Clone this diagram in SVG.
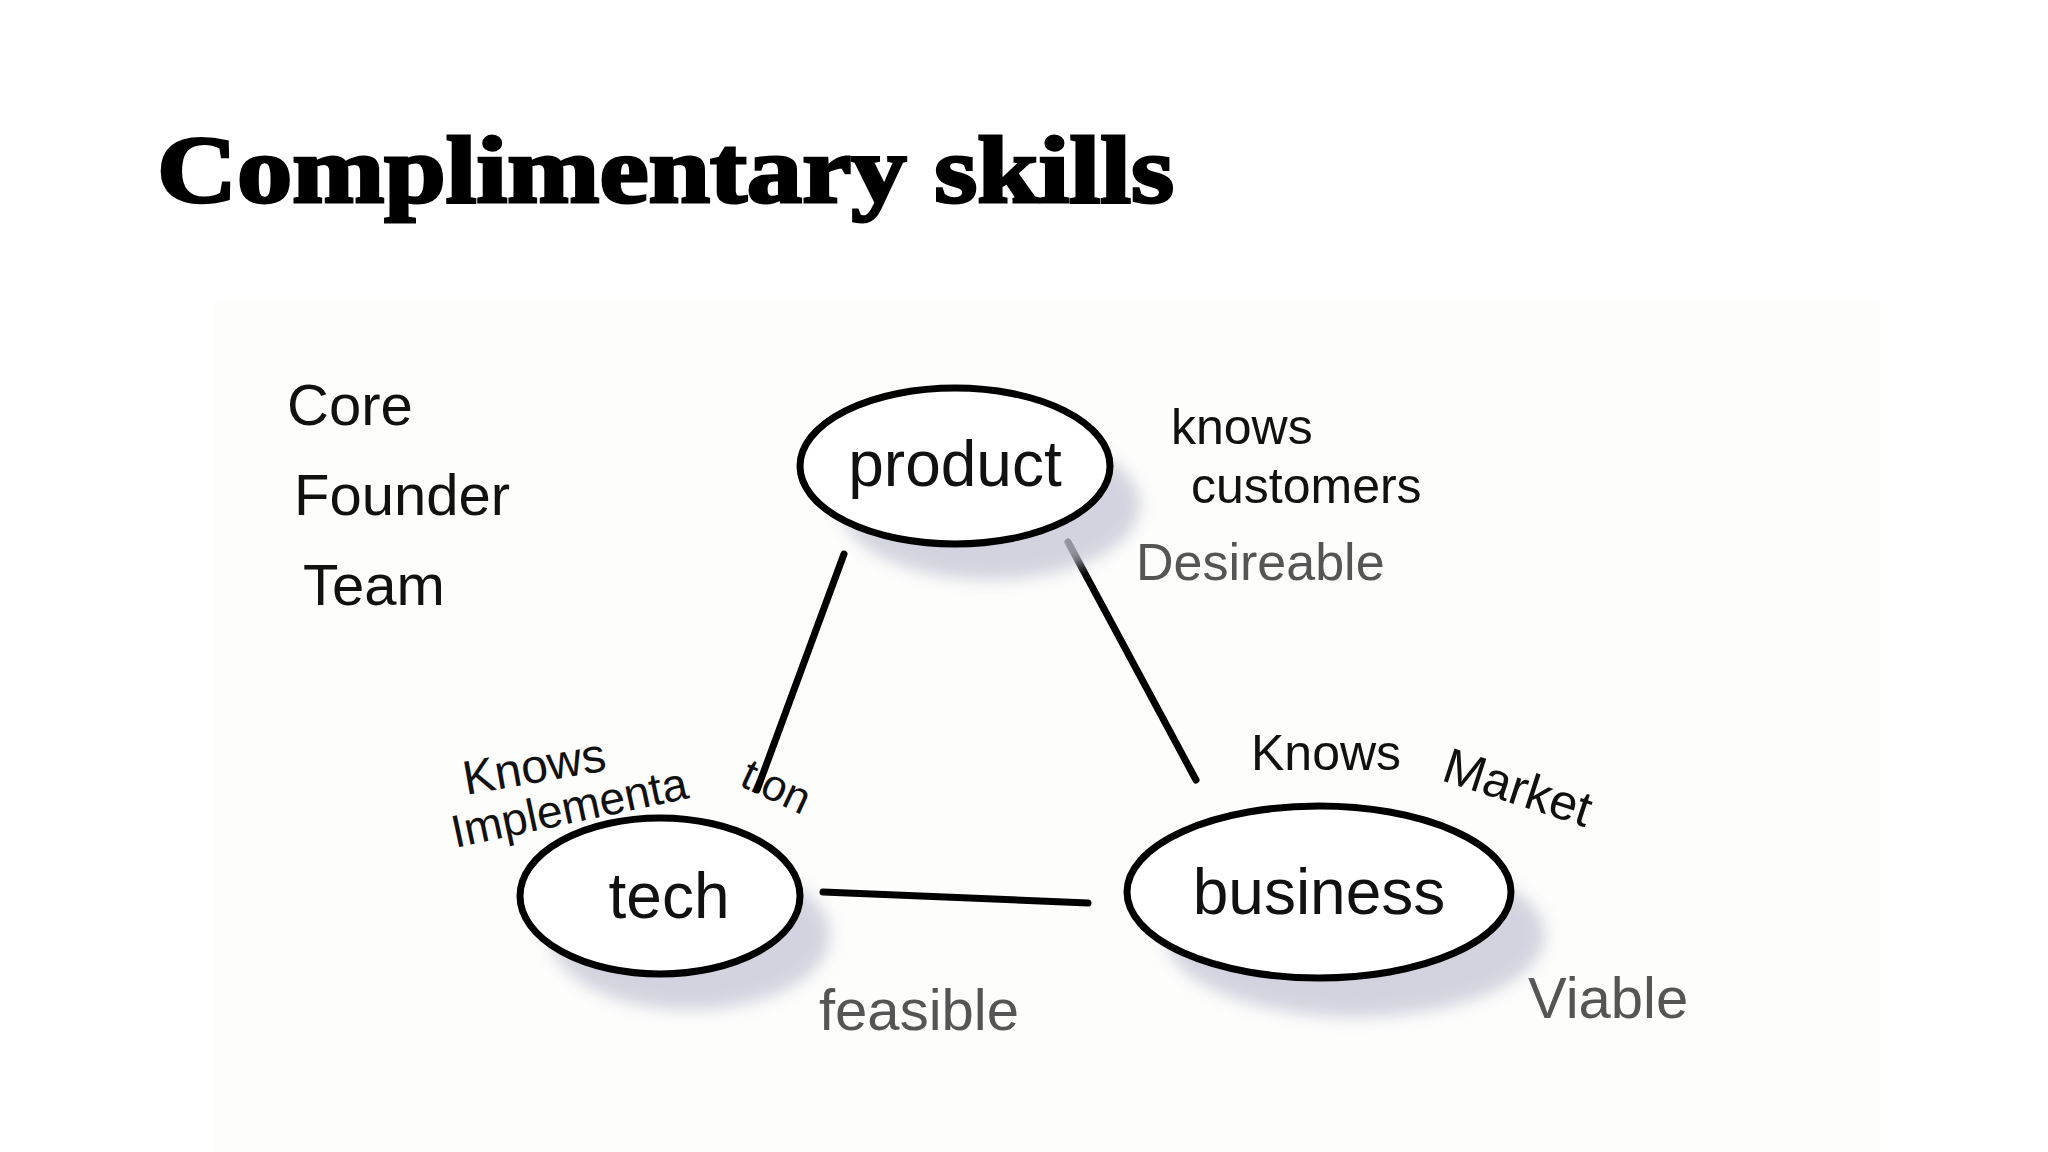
<svg xmlns="http://www.w3.org/2000/svg" width="2048" height="1152" viewBox="0 0 2048 1152">
<defs>
<style>
.n{fill:#fff;stroke:#000;stroke-width:7}
.c{stroke:#000;stroke-width:7;stroke-linecap:round;fill:none}
.sh{fill:#c4c6d4;opacity:0.75}
.h{font-family:"Liberation Sans",sans-serif;fill:#111}
.g{font-family:"Liberation Sans",sans-serif;fill:#555}
</style>
<filter id="b"><feGaussianBlur stdDeviation="8"/></filter>
</defs>
<rect width="2048" height="1152" fill="#fff"/>
<rect x="215" y="300" width="1665" height="852" fill="#fdfdfc"/>
<text x="157" y="202" font-family="Liberation Serif,serif" font-weight="bold" font-size="96" fill="#000" textLength="1017" lengthAdjust="spacingAndGlyphs" stroke="#000" stroke-width="3">Complimentary skills</text>
<g class="h" font-size="58">
<text x="287" y="425">Core</text>
<text x="294" y="515">Founder</text>
<text x="303" y="605">Team</text>
<text x="1171" y="444" font-size="50">knows</text>
<text x="1191" y="503" font-size="50">customers</text>
<text x="1251" y="770" font-size="50">Knows</text>
<text x="1440" y="780" font-size="50" transform="rotate(18 1440 780)">Market</text>
<text x="466" y="795" font-size="48" transform="rotate(-10 466 795)">Knows</text>
<text x="455" y="848" font-size="46" transform="rotate(-12 455 848)">Implementa</text>
<text x="738" y="785" font-size="44" transform="rotate(25 738 785)">tion</text>
</g>
<g class="g">
<text x="1136" y="580" font-size="52">Desireable</text>
<text x="819" y="1030" font-size="58">feasible</text>
<text x="1528" y="1018" font-size="58">Viable</text>
</g>
<g id="connectors">
<line class="c" x1="844" y1="554" x2="757" y2="790"/>
<line class="c" x1="1068" y1="542" x2="1196" y2="780"/>
<line class="c" x1="823" y1="892" x2="1088" y2="903"/>
</g>
<g id="product">
<ellipse class="sh" cx="990" cy="505" rx="150" ry="75" filter="url(#b)"/>
<ellipse cx="955" cy="466" rx="155" ry="78" class="n"/>
<text x="955" y="486" text-anchor="middle" class="h" font-size="64">product</text>
</g>
<g id="tech">
<ellipse class="sh" cx="690" cy="935" rx="140" ry="75" filter="url(#b)"/>
<ellipse cx="660" cy="896" rx="140" ry="78" class="n"/>
<text x="669" y="918" text-anchor="middle" class="h" font-size="64">tech</text>
</g>
<g id="business">
<ellipse class="sh" cx="1355" cy="935" rx="190" ry="82" filter="url(#b)"/>
<ellipse cx="1319" cy="892" rx="192" ry="86" class="n"/>
<text x="1319" y="914" text-anchor="middle" class="h" font-size="64">business</text>
</g>
</svg>
